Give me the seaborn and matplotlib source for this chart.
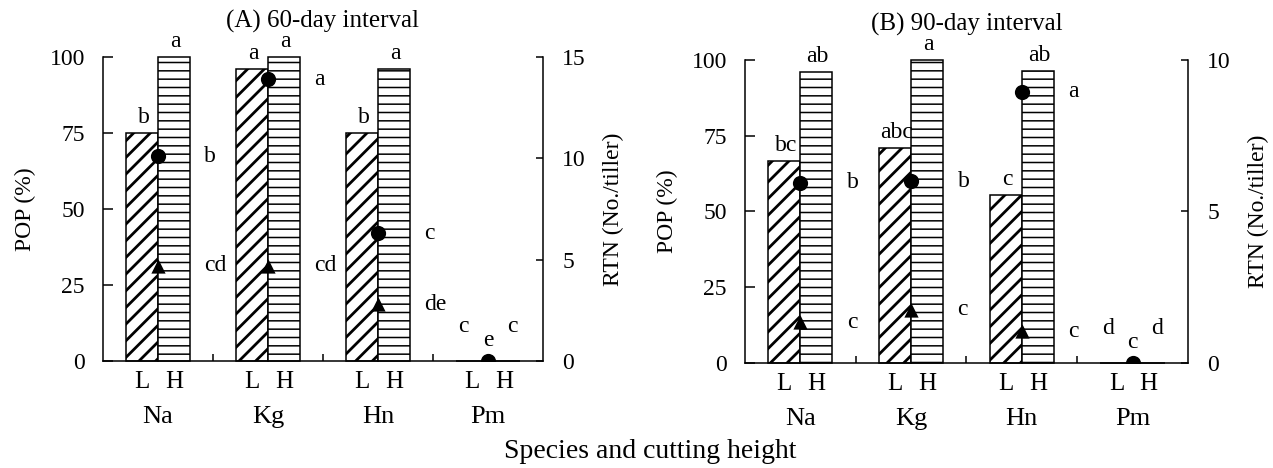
import numpy as np
import pandas as pd
import seaborn as sns
import matplotlib.pyplot as plt

species = ['Na', 'Kg', 'Hn', 'Pm']
heights = ['L', 'H']

# (A) 60-day interval
pop60_L = [75, 96, 75, 0]
pop60_H = [100, 100, 96, 0]
rtn60_dot = [10.1, 13.9, 6.3, 0]
rtn60_tri = [4.7, 4.7, 2.8, 0]
let60_L = ['b', 'a', 'b', 'c']
let60_H = ['a', 'a', 'a', 'c']
let60_dot = ['b', 'a', 'c', 'e']
let60_tri = ['cd', 'cd', 'de', '']

# (B) 90-day interval
pop90_L = [66.7, 71, 55.4, 0]
pop90_H = [96, 100, 96.4, 0]
rtn90_dot = [5.95, 6.0, 8.95, 0]
rtn90_tri = [1.35, 1.75, 1.05, 0]
let90_L = ['bc', 'abc', 'c', 'd']
let90_H = ['ab', 'a', 'ab', 'd']
let90_dot = ['b', 'b', 'a', 'c']
let90_tri = ['c', 'c', 'c', '']

FS = 17
sns.set_theme(style='ticks', rc={'axes.edgecolor': 'black', 'axes.linewidth': 1.1,
                                 'xtick.color': 'black', 'ytick.color': 'black',
                                 'text.color': 'black', 'axes.labelcolor': 'black',
                                 'hatch.linewidth': 1.4, 'hatch.color': 'black',
                                 'font.size': FS, 'axes.labelsize': FS,
                                 'axes.titlesize': FS, 'xtick.labelsize': 18,
                                 'ytick.labelsize': FS})
plt.rcParams['font.family'] = ['Liberation Serif', 'DejaVu Serif']


def draw_panel(ax, title, pop_L, pop_H, dots, tris, lets_L, lets_H, lets_dot, lets_tri, rtn_max):
    df = pd.DataFrame({'species': species * 2,
                       'height': ['L'] * len(species) + ['H'] * len(species),
                       'pop': pop_L + pop_H})
    sns.barplot(data=df, x='species', y='pop', hue='height', hue_order=heights,
                palette={'L': 'white', 'H': 'white'}, saturation=1, errorbar=None,
                width=0.58, edgecolor='black', linewidth=1.1, legend=False, ax=ax)

    ticks, labs = [], []
    for cont, hatch, lets, side in zip(ax.containers, ['//', '--'], [lets_L, lets_H], [-1, 1]):
        for bar, txt in zip(cont, lets):
            bar.set_hatch(hatch)
            bar.set_clip_on(False)
            if hasattr(bar, 'set_hatch_linewidth'):
                bar.set_hatch_linewidth(2.0 if hatch == '//' else 1.1)
            xc = bar.get_x() + bar.get_width() / 2
            h = bar.get_height()
            if h > 0:
                ax.annotate(txt, xy=(xc, h), xytext=(1, 7), textcoords='offset points',
                            ha='center', va='baseline', annotation_clip=False)
            else:
                ax.annotate(txt, xy=(xc + side * 0.08, 0), xytext=(0, 21),
                            textcoords='offset points', ha='center', va='baseline',
                            annotation_clip=False)
    for i in range(len(species)):
        for cont, lab in zip(ax.containers, heights):
            bar = cont[i]
            ticks.append(bar.get_x() + bar.get_width() / 2)
            labs.append(lab)

    ax.set_xlim(-0.5, 3.5)
    ax.set_ylim(0, 100)
    ax.set_yticks([0, 25, 50, 75, 100])
    ax.set_xticks(ticks, labs)
    ax.set_xticks([0.5, 1.5, 2.5], minor=True)
    ax.tick_params(axis='x', which='major', length=0, pad=7.5)
    ax.tick_params(axis='x', which='minor', direction='in', length=5, width=1.1)
    ax.tick_params(axis='y', direction='in', length=7, width=1.1, pad=13)
    ax.set_xlabel('')
    ax.set_ylabel('POP (%)', labelpad=10)
    ax.set_title(title, pad=21, fontsize=18)
    ax.spines['top'].set_visible(False)
    ax.spines['right'].set_visible(False)

    for i, sp in enumerate(species):
        ax.annotate(sp, xy=(i, 0), xycoords=('data', 'axes fraction'), xytext=(0, -40),
                    textcoords='offset points', ha='center', va='center',
                    fontsize=19, annotation_clip=False)

    ax2 = ax.twinx()
    xpos = np.arange(len(species))
    sns.scatterplot(x=xpos, y=tris, marker='^', s=105, color='black', linewidth=0, ax=ax2)
    sns.scatterplot(x=xpos, y=dots, marker='o', s=120, color='black', linewidth=0, ax=ax2)
    for vals, lets in [(dots, lets_dot), (tris, lets_tri)]:
        for i, (v, t) in enumerate(zip(vals, lets)):
            if not t:
                continue
            if v > 0:
                ax2.annotate(t, xy=(i + 0.42, v), ha='left', va='center',
                             annotation_clip=False)
            else:
                ax2.annotate(t, xy=(i, 0), xytext=(0, 10.5), textcoords='offset points',
                             ha='center', va='baseline', annotation_clip=False)
    ax2.set_ylim(0, rtn_max)
    ax2.set_yticks(range(0, rtn_max + 1, 5))
    ax2.tick_params(axis='y', direction='in', length=5, width=1.1, pad=14)
    ax2.set_ylabel('RTN (No./tiller)', labelpad=12)
    for s in ['top', 'left', 'bottom']:
        ax2.spines[s].set_visible(False)
    ax2.set_xlim(-0.5, 3.5)


fig = plt.figure(figsize=(12.73, 4.68), dpi=100)
axA = fig.add_axes([0.0809, 0.2286, 0.3456, 0.6496])
axB = fig.add_axes([0.5852, 0.2244, 0.3480, 0.6474])

draw_panel(axA, '(A) 60-day interval', pop60_L, pop60_H, rtn60_dot, rtn60_tri,
           let60_L, let60_H, let60_dot, let60_tri, 15)
draw_panel(axB, '(B) 90-day interval', pop90_L, pop90_H, rtn90_dot, rtn90_tri,
           let90_L, let90_H, let90_dot, let90_tri, 10)

fig.text(650 / 1273, 1 - 452 / 468, 'Species and cutting height', ha='center', va='center',
         fontsize=20)

fig.savefig('out.png', dpi=100)
